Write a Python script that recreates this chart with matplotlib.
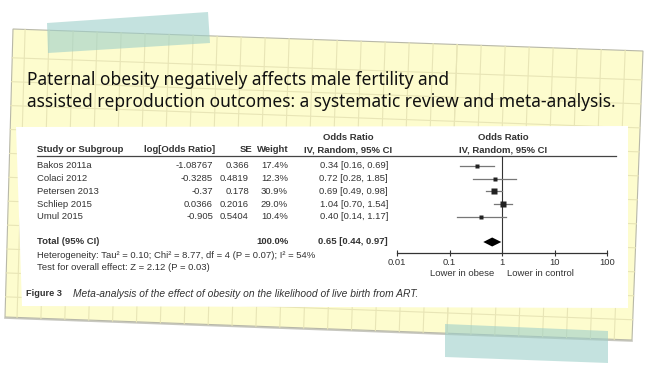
import numpy as np
import matplotlib
matplotlib.use("Agg")
import matplotlib.pyplot as plt
from matplotlib.patches import Polygon

# data
studies = ["Bakos 2011a", "Colaci 2012", "Petersen 2013", "Schliep 2015", "Umul 2015"]
log_or = ["-1.08767", "-0.3285", "-0.37", "0.0366", "-0.905"]
se = ["0.366", "0.4819", "0.178", "0.2016", "0.5404"]
weights = [17.4, 12.3, 30.9, 29.0, 10.4]
or_est = [0.34, 0.72, 0.69, 1.04, 0.40]
ci_low = [0.16, 0.28, 0.49, 0.70, 0.14]
ci_high = [0.69, 1.85, 0.98, 1.54, 1.17]
total_est, total_low, total_high = 0.65, 0.44, 0.97
x_ticks = [0.01, 0.1, 1, 10, 100]
x_tick_labels = ["0.01", "0.1", "1", "10", "100"]

title = ("Paternal obesity negatively affects male fertility and\n"
         "assisted reproduction outcomes: a systematic review and meta-analysis.")
heterogeneity = "Heterogeneity: Tau\u00b2 = 0.10; Chi\u00b2 = 8.77, df = 4 (P = 0.07); I\u00b2 = 54%"
overall = "Test for overall effect: Z = 2.12 (P = 0.03)"
caption = "Meta-analysis of the effect of obesity on the likelihood of live birth from ART."

W, H = 650, 373
fig = plt.figure(figsize=(6.5, 3.73), dpi=100)
bg = fig.add_axes([0, 0, 1, 1])
bg.set_xlim(0, W)
bg.set_ylim(H, 0)
bg.axis("off")

# paper sheet (slightly skewed quad)
TL, TR, BR, BL = map(np.array, [(13, 29), (643, 51), (632, 340), (5, 317)])


def paper_pt(u, v):
    top = TL + u * (TR - TL)
    bot = BL + u * (BR - BL)
    return top + v * (bot - top)


bg.add_patch(Polygon([TL, TR, BR, BL], closed=True, fc="#fdfcce",
                     ec="#b8b8a8", lw=0.8, zorder=1))
# shadow under the bottom edge
bg.plot([BL[0], BR[0]], [BL[1] + 1, BR[1] + 1], color="#c8c8c0", lw=1.2, zorder=0.9)

for u in np.arange(0.705, -0.01, -0.0381).tolist() + np.arange(0.705, 1.0, 0.0381).tolist():
    a, b = paper_pt(u, 0), paper_pt(u, 1)
    bg.plot([a[0], b[0]], [a[1], b[1]], color="#e8e5b6", lw=0.8, zorder=1.1)
for v in np.arange(0.1, 1.0, 0.083):
    a, b = paper_pt(0, v), paper_pt(1, v)
    bg.plot([a[0], b[0]], [a[1], b[1]], color="#e8e5b6", lw=0.8, zorder=1.1)

# white figure panel
bg.add_patch(Polygon([(16, 127), (628, 126), (628, 308), (22, 306)], closed=True,
                     fc="white", ec="none", zorder=2))

# tapes
tape_c = "#9ed0ca"
bg.add_patch(Polygon([(47, 23), (208, 12), (210, 43), (48, 53)], closed=True,
                     fc=tape_c, ec="none", alpha=0.6, zorder=5))
bg.add_patch(Polygon([(445, 324), (608, 331), (608, 363), (445, 357)], closed=True,
                     fc=tape_c, ec="none", alpha=0.6, zorder=5))

# title
bg.text(27, 91, title, fontsize=12.5, family="Noto Sans", color="#111111",
        va="center", ha="left", linespacing=1.25, zorder=3)

# table
tc = "#333333"
fs = 6.8
kw = dict(fontsize=fs, family="Liberation Sans", color=tc, va="center", zorder=3)
bg.text(348, 137, "Odds Ratio", ha="center", weight="bold", **kw)
bg.text(503, 137, "Odds Ratio", ha="center", weight="bold", **kw)
hy = 150
bg.text(37, hy, "Study or Subgroup", ha="left", weight="bold", **kw)
bg.text(215, hy, "log[Odds Ratio]", ha="right", weight="bold", **kw)
bg.text(252, hy, "SE", ha="right", weight="bold", **kw)
bg.text(289, hy, "Weight", ha="right", weight="bold", **kw)
bg.text(348, hy, "IV, Random, 95% CI", ha="center", weight="bold", **kw)
bg.text(503, hy, "IV, Random, 95% CI", ha="center", weight="bold", **kw)
bg.plot([37, 616], [156, 156], color="#444444", lw=0.9, zorder=3)

row_y = [166 + 12.7 * i for i in range(len(studies))]
for i, name in enumerate(studies):
    y = row_y[i]
    bg.text(37, y, name, ha="left", **kw)
    bg.text(213, y, log_or[i], ha="right", **kw)
    bg.text(249, y, se[i], ha="right", **kw)
    bg.text(288, y, f"{weights[i]:.1f}%", ha="right", **kw)
    bg.text(388, y, f"{or_est[i]:.2f} [{ci_low[i]:.2f}, {ci_high[i]:.2f}]", ha="right", **kw)

ty = 242
bg.text(37, ty, "Total (95% CI)", ha="left", weight="bold", **kw)
bg.text(289, ty, f"{sum(weights):.1f}%", ha="right", weight="bold", **kw)
bg.text(388, ty, f"{total_est:.2f} [{total_low:.2f}, {total_high:.2f}]", ha="right",
        weight="bold", **kw)
bg.text(37, 256, heterogeneity, ha="left", **kw)
bg.text(37, 268, overall, ha="left", **kw)

bg.text(26, 294, "Figure 3", ha="left", fontsize=6.6, family="Liberation Sans",
        weight="bold", color="#333333", va="center", zorder=3)
bg.text(73, 294, caption, ha="left", fontsize=7.4, family="Liberation Sans",
        style="italic", color="#333333", va="center", zorder=3)

# forest plot axes: x from 0.01 (px 397) to 100 (px 607), y in pixels 156..253
x0, x1, y0, y1 = 397, 607, 156, 253
fa = fig.add_axes([x0 / W, 1 - y1 / H, (x1 - x0) / W, (y1 - y0) / H], zorder=4)
fa.patch.set_alpha(0)
fa.set_xscale("log")
fa.set_xlim(0.01, 100)
fa.set_ylim(y1, y0)
for s in ["top", "right", "left"]:
    fa.spines[s].set_visible(False)
fa.spines["bottom"].set_color("#333333")
fa.spines["bottom"].set_linewidth(0.9)
fa.set_yticks([])
fa.set_xticks(x_ticks)
fa.set_xticklabels(x_tick_labels, fontsize=6.8, family="Liberation Sans", color=tc)
fa.minorticks_off()
fa.tick_params(axis="x", direction="inout", length=5, width=0.8, color="#333333", pad=1)

fa.axvline(1, color="#333333", lw=0.8)
for i in range(len(studies)):
    y = row_y[i]
    fa.plot([ci_low[i], ci_high[i]], [y, y], color="#777777", lw=0.9)
    size_px = 2.2 + 3.2 * weights[i] / max(weights)
    fa.plot([or_est[i]], [y], marker="s", ms=size_px * 0.72, color="#222222", mec="none")
fa.add_patch(Polygon([(total_low, ty), (total_est, ty - 4.5), (total_high, ty),
                      (total_est, ty + 4.5)], closed=True, fc="black", ec="none"))

# labels below the tick labels, y in pixel terms converted to axes fraction
lab_y = -(274 - y1) / (y1 - y0)
fa.text(0.173, lab_y, "Lower in obese", transform=fa.get_xaxis_transform(), ha="center",
        va="center", fontsize=6.8, family="Liberation Sans", color=tc)
fa.text(5.3, lab_y, "Lower in control", transform=fa.get_xaxis_transform(), ha="center",
        va="center", fontsize=6.8, family="Liberation Sans", color=tc)

fig.savefig("out.png", dpi=100)
